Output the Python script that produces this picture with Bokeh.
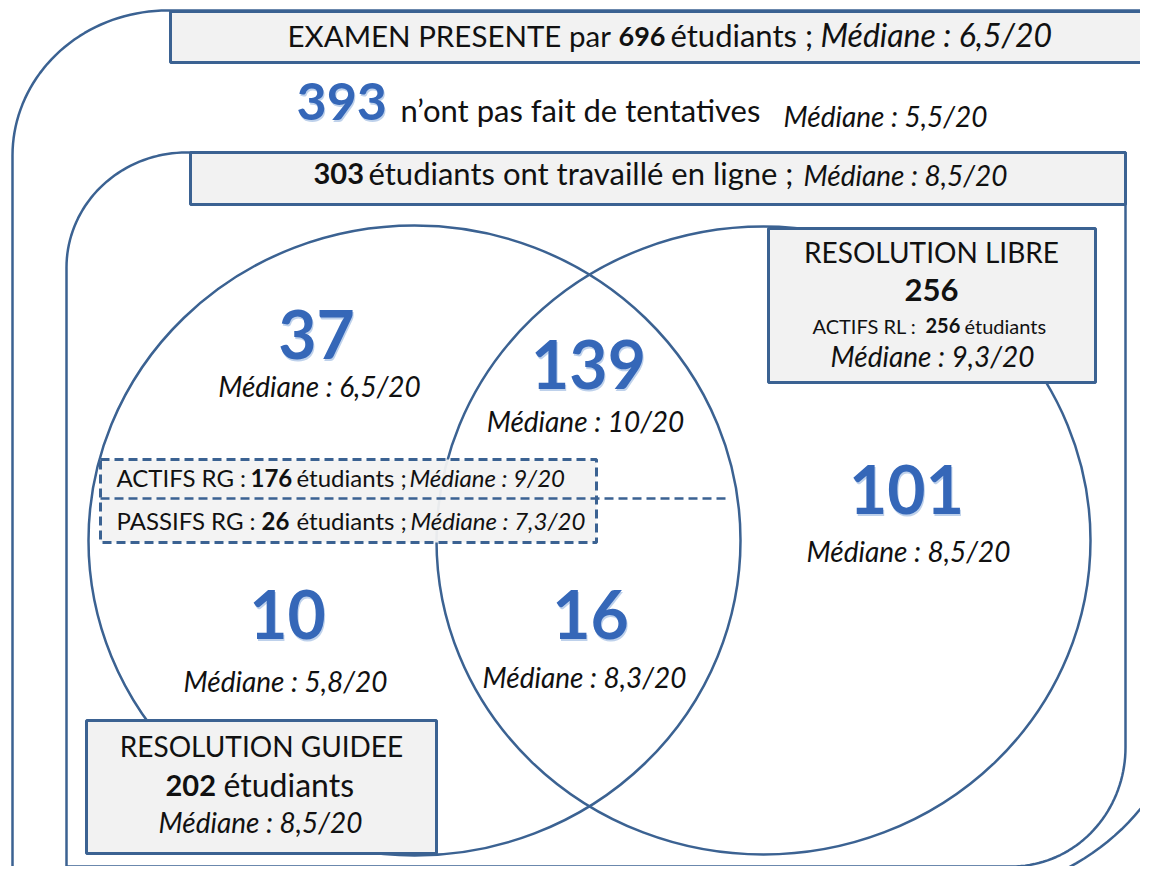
import numpy as np
from bokeh.plotting import figure
from bokeh.models import Range1d
from bokeh.core.properties import value
from bokeh.embed import file_html
from bokeh.resources import INLINE

# ---------------- data ----------------
exam_total = 696
exam_median = "6,5"
no_attempt = 393
no_attempt_median = "5,5"
online_total = 303
online_median = "8,5"
rl_total = 256
rl_active = 256
rl_median = "9,3"
rg_total = 202
rg_median = "8,5"
rg_active = 176
rg_active_median = "9"
rg_passive = 26
rg_passive_median = "7,3"
region_counts = [37, 139, 101, 10, 16]
region_medians = ["6,5", "10", "8,5", "5,8", "8,3"]

# ---------------- layout (reference pixel space) ----------------
LINE = "#3b6292"
BOXFILL = "#f2f2f2"
BLUE = "#3567b8"
FONT = "Lato"
BASE_K = 0.4   # correction: rendered baseline sits ~0.4em below requested y

region_x = [316, 588, 906, 287, 590]
region_num_base = [360, 390, 515, 640, 640]
region_med_x = [319, 585, 908, 285, 584]
region_med_base = [397, 432, 562, 692, 688]

p = figure(width=1140, height=866, output_backend="svg", toolbar_location=None,
           x_range=Range1d(0, 1140), y_range=Range1d(866, 0),
           x_axis_location=None, y_axis_location=None, min_border=0)
p.grid.visible = False
p.outline_line_color = None
p.background_fill_color = "white"
p.border_fill_color = "white"


def arc(cx, cy, rx, ry, a0, a1, n=40):
    t = np.linspace(np.radians(a0), np.radians(a1), n)
    return cx + rx * np.cos(t), cy + ry * np.sin(t)


def corner_shape(left, top, right, bottom, r_tl, r_br):
    # rounded top-left and bottom-right corners (y grows downward)
    xs, ys = [left], [bottom]
    ax, ay = arc(left + r_tl[0], top + r_tl[1], r_tl[0], r_tl[1], 180, 270)
    xs += list(ax); ys += list(ay)
    xs += [right]; ys += [top]
    bx, by = arc(right - r_br[0], bottom - r_br[1], r_br[0], r_br[1], 0, 90)
    xs += list(bx); ys += list(by)
    xs += [left]; ys += [bottom]
    return xs, ys


# outer frame
ox, oy = corner_shape(12, 10, 1193, 894, (155, 145), (234, 234))
p.line(ox, oy, line_color=LINE, line_width=2.5)
# inner frame (online students)
ix, iy = corner_shape(66, 152, 1125, 866, (120, 115), (114, 119))
p.line(ix, iy, line_color=LINE, line_width=2.5)

# header boxes
p.quad(left=[170], right=[1175], top=[11], bottom=[62], fill_color=BOXFILL,
       line_color=LINE, line_width=3)
p.quad(left=[190], right=[1125], top=[152], bottom=[204], fill_color=BOXFILL,
       line_color=LINE, line_width=3)

# two sets (circles)
p.ellipse(x=[414, 763], y=[540, 540], width=[652, 654], height=[630, 628],
          fill_alpha=0, line_color=LINE, line_width=2.5)

# dashed RG sub-box
p.quad(left=[100], right=[596], top=[459], bottom=[542], fill_color=BOXFILL,
       fill_alpha=0.95, line_color=LINE, line_width=3, line_dash="9 5")
p.line([100, 725], [498, 498], line_color=LINE, line_width=2.5, line_dash="9 5")

# RL and RG boxes
p.quad(left=[768], right=[1095], top=[228], bottom=[382], fill_color=BOXFILL,
       line_color=LINE, line_width=3)
p.quad(left=[86], right=[436], top=[720], bottom=[853], fill_color=BOXFILL,
       line_color=LINE, line_width=3)


def txt(x, y, text, size, style="normal", color="#111111", align="left"):
    p.text(x=[x], y=[y - BASE_K * size], text=[text], text_font=value(FONT),
           text_font_size=value(f"{size}px"), text_font_style=style,
           text_color=color, text_align=align, text_baseline="alphabetic")


def bignum(x, y, text, size, align="center"):
    yy = y - BASE_K * size
    p.text(x=[x + 1], y=[yy + 2], text=[text], text_font=value(FONT),
           text_font_size=value(f"{size}px"), text_font_style="bold",
           text_color="#a3bde3", text_alpha=0.7, text_align=align,
           text_baseline="alphabetic")
    p.text(x=[x], y=[yy], text=[text], text_font=value(FONT),
           text_font_size=value(f"{size}px"), text_font_style="bold",
           text_color=BLUE, text_align=align, text_baseline="alphabetic")


# row 1
txt(287, 47, "EXAMEN PRESENTE par", 29.5)
txt(618, 47, f"{exam_total}", 27, "bold")
txt(670, 47, "étudiants ;", 31)
txt(820, 47, f"Médiane : {exam_median}/20", 32, "italic")

# row 2
bignum(296, 122, f"{no_attempt}", 52, align="left")
txt(400, 122, "n’ont pas fait de tentatives", 31)
txt(783, 127, f"Médiane : {no_attempt_median}/20", 28, "italic")

# row 3
txt(313, 185, f"{online_total}", 29, "bold")
txt(368, 185, "étudiants ont travaillé en ligne ;", 31)
txt(803, 186, f"Médiane : {online_median}/20", 28, "italic")

# RL box
txt(931, 263, "RESOLUTION LIBRE", 28, align="center")
txt(931, 302, f"{rl_total}", 31, "bold", align="center")
txt(812, 333, "ACTIFS RL :", 20)
txt(925, 333, f"{rl_active}", 20, "bold")
txt(964, 333, "étudiants", 20)
txt(932, 367, f"Médiane : {rl_median}/20", 28, "italic", align="center")

# RG box
txt(261, 757, "RESOLUTION GUIDEE", 28, align="center")
txt(165, 797, f"{rg_total}", 29, "bold")
txt(223, 797, "étudiants", 32)
txt(260, 833, f"Médiane : {rg_median}/20", 28, "italic", align="center")

# dashed box rows
txt(116, 487, "ACTIFS RG :", 24)
txt(250, 487, f"{rg_active}", 24, "bold")
txt(296, 487, "étudiants ;", 24)
txt(409, 487, f"Médiane : {rg_active_median}/20", 24, "italic")
txt(116, 530, "PASSIFS RG :", 24)
txt(261, 530, f"{rg_passive}", 24, "bold")
txt(296, 530, "étudiants ;", 24)
txt(410, 530, f"Médiane : {rg_passive_median}/20", 24, "italic")

# regions
for cx, nb, mx, mb, n, m in zip(region_x, region_num_base, region_med_x,
                                region_med_base, region_counts, region_medians):
    bignum(cx, nb, f"{n}", 66)
    txt(mx, mb, f"Médiane : {m}/20", 28, "italic", align="center")

open("out.html", "w").write(file_html(p, INLINE))
